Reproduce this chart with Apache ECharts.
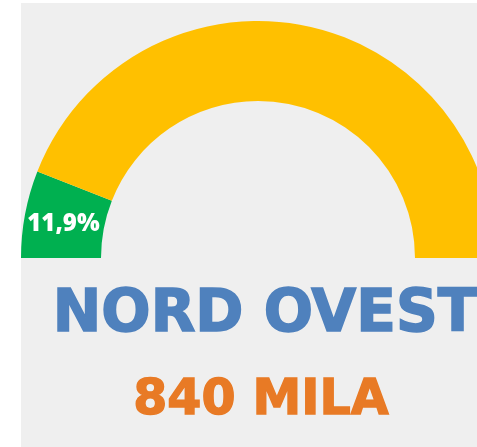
<!DOCTYPE html>
<html>
<head>
<meta charset="utf-8">
<script src="https://cdn.jsdelivr.net/npm/echarts@6/dist/echarts.min.js"></script>
<style>
  html, body { margin: 0; padding: 0; background: #ffffff; }
  #chart { position: absolute; left: 21px; top: 3px; width: 456px; height: 444px; }
</style>
</head>
<body>
<div id="chart"></div>
<script>
const sliceNames = ['Nord Ovest', 'Resto'];
const sliceValues = [11.9, 88.1];
const sliceColors = ['#00B050', '#FFC000'];
const regionName = 'NORD OVEST';
const regionTotal = '840 MILA';

const chart = echarts.init(document.getElementById('chart'));

chart.setOption({
  backgroundColor: '#EFEFEF',
  animation: false,
  title: [
    {
      text: regionName,
      left: 239, top: 279,
      textAlign: 'center',
      textStyle: {
        fontFamily: 'DejaVu Sans', fontWeight: 'bold', fontSize: 58, color: '#4F81BD',
        textBorderColor: '#4F81BD', textBorderWidth: 1.6
      }
    },
    {
      text: regionTotal,
      left: 235, top: 369,
      textAlign: 'center',
      textStyle: {
        fontFamily: 'DejaVu Sans', fontWeight: 'bold', fontSize: 49, color: '#E87A25',
        textBorderColor: '#E87A25', textBorderWidth: 1.4
      }
    }
  ],
  series: [
    {
      type: 'pie',
      center: [237, 255],
      radius: [157, 237],
      startAngle: 180,
      endAngle: 0,
      clockwise: true,
      silent: true,
      data: sliceNames.map((name, i) => ({
        name: name,
        value: sliceValues[i],
        itemStyle: { color: sliceColors[i] },
        label: { show: i === 0 }
      })),
      label: {
        position: 'inside',
        formatter: p => p.value.toFixed(1).replace('.', ',') + '%',
        color: '#ffffff',
        fontFamily: 'Open Sans',
        fontWeight: 800,
        fontSize: 24,
        offset: [2, 3]
      },
      labelLine: { show: false }
    }
  ]
});
</script>
</body>
</html>
